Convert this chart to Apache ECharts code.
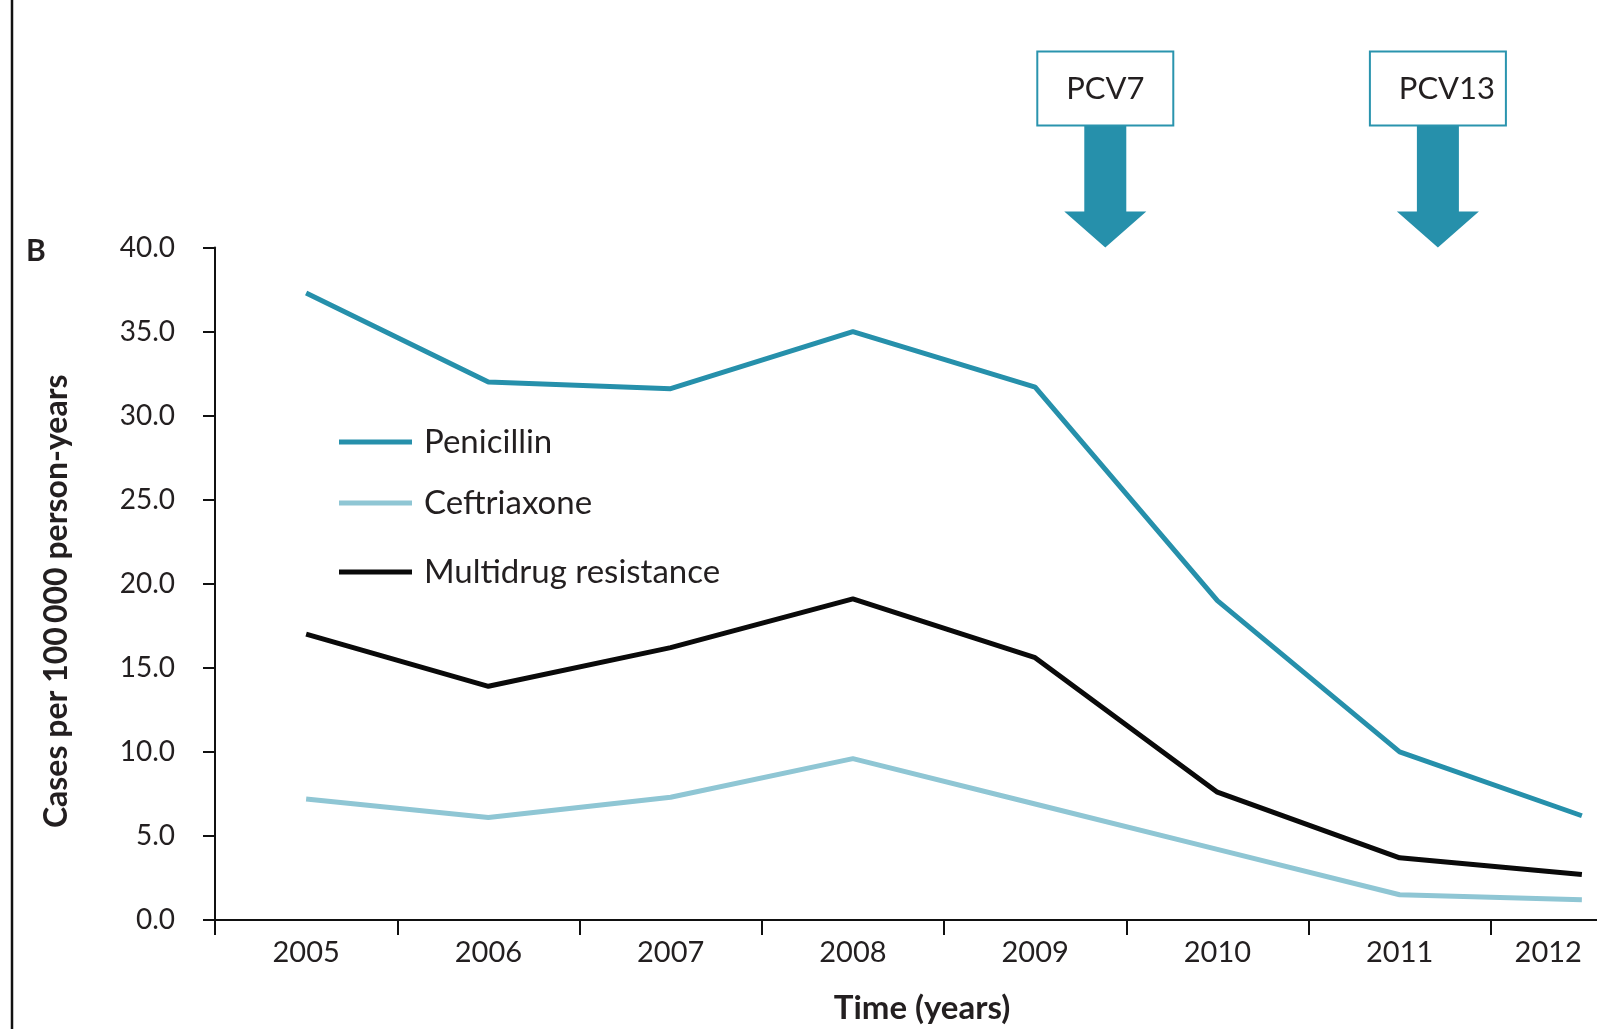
<!DOCTYPE html>
<html>
<head>
<meta charset="utf-8">
<title>Resistant pneumococcal disease, 2005–2012</title>
<script src="https://cdn.jsdelivr.net/npm/echarts@6/dist/echarts.min.js"></script>
<style>
  html, body { margin: 0; padding: 0; background: #ffffff; }
  #chart { width: 1597px; height: 1029px; }
</style>
</head>
<body>
<div id="chart"></div>
<script>
// Years on the horizontal axis
const years = ['2005', '2006', '2007', '2008', '2009', '2010', '2011', '2012'];

// Cases per 100 000 person-years
const penicillin = [37.3, 32.0, 31.6, 35.0, 31.7, 19.0, 10.0, 6.2];
const ceftriaxone = [7.2, 6.1, 7.3, 9.6, 6.9, 4.2, 1.5, 1.2];
const multidrug = [17.0, 13.9, 16.2, 19.1, 15.6, 7.6, 3.7, 2.7];

// Vaccine introductions, as a position along the year axis (category index)
const vaccines = [
  { name: 'PCV7', at: 4.385 },
  { name: 'PCV13', at: 6.21 }
];

const TEAL = '#2690ab';
const LIGHT = '#8fc6d4';
const INK = '#231f20';
const FONT = 'Lato, "Open Sans", sans-serif';

const chart = echarts.init(document.getElementById('chart'), null, { renderer: 'canvas' });

function legendFor(name, top) {
  return {
    data: [name],
    left: 339,
    top: top,
    orient: 'vertical',
    padding: 0,
    icon: 'rect',
    itemWidth: 73,
    itemHeight: 5,
    selectedMode: false,
    textStyle: { color: INK, fontFamily: FONT, fontSize: 33, lineHeight: 34, padding: [0, 0, 0, 7] }
  };
}

const option = {
  animation: false,
  backgroundColor: '#ffffff',
  textStyle: { fontFamily: FONT },
  grid: {
    left: 215,
    top: 247.5,
    bottom: 109,
    right: -76,
    outerBoundsMode: 'none'
  },
  legend: [
    legendFor('Penicillin', 425),
    legendFor('Ceftriaxone', 486),
    legendFor('Multidrug resistance', 555)
  ],
  xAxis: {
    type: 'category',
    data: years,
    boundaryGap: true,
    name: 'Time (years)',
    nameLocation: 'middle',
    nameGap: 72,
    nameTextStyle: { color: INK, fontFamily: FONT, fontSize: 33, fontWeight: 'bold', padding: [0, 44, 0, 0] },
    axisLine: { show: true, lineStyle: { color: '#111', width: 2 } },
    axisTick: { show: true, inside: false, length: 15, alignWithLabel: false, lineStyle: { color: '#111', width: 2 } },
    axisLabel: { color: INK, fontFamily: FONT, fontSize: 29, margin: 18, alignMaxLabel: 'right' },
    splitLine: { show: false }
  },
  yAxis: {
    type: 'value',
    min: 0,
    max: 40,
    interval: 5,
    name: 'Cases per 100\u2009000 person-years',
    nameLocation: 'middle',
    nameRotate: 90,
    nameGap: 142,
    nameTextStyle: { color: INK, fontFamily: FONT, fontSize: 32, fontWeight: 'bold', padding: [0, 35, 0, 0] },
    axisLine: { show: true, lineStyle: { color: '#111', width: 2 } },
    axisTick: { show: true, inside: false, length: 12, lineStyle: { color: '#111', width: 2 } },
    axisLabel: { color: INK, fontFamily: FONT, fontSize: 28, margin: 40, formatter: v => v.toFixed(1) },
    splitLine: { show: false }
  },
  series: [
    {
      name: 'Penicillin', type: 'line', data: penicillin,
      symbol: 'none', lineStyle: { color: TEAL, width: 5 }, itemStyle: { color: TEAL }, z: 3
    },
    {
      name: 'Ceftriaxone', type: 'line', data: ceftriaxone,
      symbol: 'none', lineStyle: { color: LIGHT, width: 5 }, itemStyle: { color: LIGHT }, z: 2
    },
    {
      name: 'Multidrug resistance', type: 'line', data: multidrug,
      symbol: 'none', lineStyle: { color: '#0a0a0a', width: 5 }, itemStyle: { color: '#0a0a0a' }, z: 2
    }
  ]
};

chart.setOption(option);

// Panel furniture and vaccine markers, placed from the chart's own axes
function catX(pos) {
  const i = Math.floor(pos);
  const f = pos - i;
  const a = chart.convertToPixel({ xAxisIndex: 0 }, years[i]);
  const b = chart.convertToPixel({ xAxisIndex: 0 }, years[Math.min(i + 1, years.length - 1)]);
  return a + f * (b - a);
}

const tipY = chart.convertToPixel({ yAxisIndex: 0 }, 40);
const graphics = [
  { type: 'line', shape: { x1: 12, y1: 0, x2: 12, y2: 1029 }, style: { stroke: '#111', lineWidth: 2.5 } },
  { type: 'text', left: 26, top: 236, style: { text: 'B', fill: INK, font: 'bold 30px ' + FONT } }
];

vaccines.forEach(v => {
  const x = catX(v.at);
  const headH = 36, headHalf = 41, shaftHalf = 21, shaftLen = 86;
  const boxH = 74, boxW = 136;
  const headTop = tipY - headH;
  const shaftTop = headTop - shaftLen;
  const boxTop = shaftTop - boxH;
  graphics.push({
    type: 'polygon',
    shape: {
      points: [
        [x - shaftHalf, shaftTop], [x + shaftHalf, shaftTop], [x + shaftHalf, headTop],
        [x + headHalf, headTop], [x, tipY], [x - headHalf, headTop], [x - shaftHalf, headTop]
      ]
    },
    style: { fill: TEAL }
  });
  graphics.push({
    type: 'rect',
    shape: { x: x - boxW / 2, y: boxTop, width: boxW, height: boxH },
    style: { fill: '#ffffff', stroke: '#2a94ae', lineWidth: 2 }
  });
  graphics.push({
    type: 'text',
    x: x + (v.name.length > 4 ? 9 : 0),
    y: boxTop + boxH / 2,
    style: { text: v.name, fill: INK, font: '31px ' + FONT, align: 'center', verticalAlign: 'middle' }
  });
});

chart.setOption({ graphic: graphics });
</script>
</body>
</html>
